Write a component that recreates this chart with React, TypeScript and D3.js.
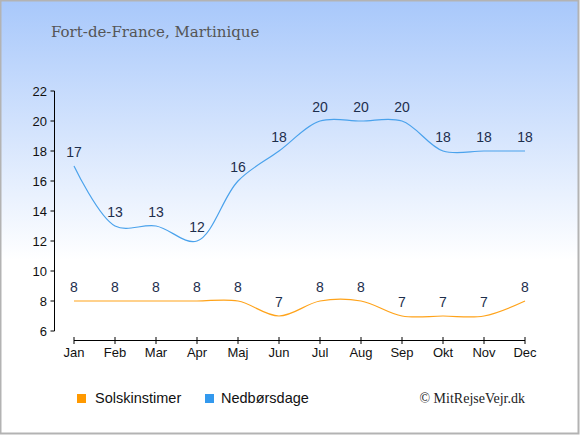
import React from 'react';
import * as d3 from 'd3';

const months = ['Jan', 'Feb', 'Mar', 'Apr', 'Maj', 'Jun', 'Jul', 'Aug', 'Sep', 'Okt', 'Nov', 'Dec'];
const sunHours = [8, 8, 8, 8, 8, 7, 8, 8, 7, 7, 7, 8];
const rainDays = [17, 13, 13, 12, 16, 18, 20, 20, 20, 18, 18, 18];
const yTicks = [6, 8, 10, 12, 14, 16, 18, 20, 22];

const W = 580;
const H = 435;

const App: React.FC = () => {
  const x = d3.scalePoint<string>().domain(months).range([74, 525]);
  const y = d3.scaleLinear().domain([6, 22]).range([331, 91]);

  const line = d3
    .line<number>()
    .x((_, i) => x(months[i])!)
    .y(d => y(d))
    .curve(d3.curveCatmullRom);

  const series = [
    { name: 'Solskinstimer', values: sunHours, color: '#ffa31a', box: '#ff9900' },
    { name: 'Nedbørsdage', values: rainDays, color: '#4aa2ec', box: '#3399ee' }
  ];

  return (
    <div style={{ position: 'fixed', left: 0, top: 0 }}>
      <svg width={W} height={H} style={{ display: 'block' }}>
        <defs>
          <linearGradient id="bg" x1="0" y1="0" x2="0" y2="1">
            <stop offset="0%" stopColor="#a8c8fb" />
            <stop offset="60%" stopColor="#ffffff" />
            <stop offset="100%" stopColor="#ffffff" />
          </linearGradient>
        </defs>
        <rect x={0.5} y={0.5} width={W - 2} height={H - 2} fill="url(#bg)" stroke="#b3b3b3" strokeWidth={2} />

        <text x={51} y={37} fontFamily="DejaVu Serif" fontSize={15} fill="#555555">
          Fort-de-France, Martinique
        </text>

        {/* y axis */}
        <g fontFamily="Liberation Sans, Arial" fontSize={13} fill="#111">
          <line x1={54.5} x2={54.5} y1={y(22)} y2={y(6)} stroke="#000" />
          {yTicks.map(t => (
            <g key={t}>
              <line x1={50.5} x2={54.5} y1={y(t)} y2={y(t)} stroke="#000" />
              <text x={47} y={y(t) + 4.5} textAnchor="end">{t}</text>
            </g>
          ))}
        </g>

        {/* x axis */}
        <g fontFamily="Liberation Sans, Arial" fontSize={13} fill="#111">
          <line x1={x('Jan')!} x2={x('Dec')!} y1={340.5} y2={340.5} stroke="#000" />
          {months.map(m => (
            <g key={m}>
              <line x1={x(m)!} x2={x(m)!} y1={337} y2={344} stroke="#000" />
              <text x={x(m)!} y={357} textAnchor="middle">{m}</text>
            </g>
          ))}
        </g>

        {series.map(s => (
          <g key={s.name}>
            <path d={line(s.values) ?? ''} fill="none" stroke={s.color} strokeWidth={1.2} />
            {s.values.map((v, i) => (
              <text
                key={i}
                x={x(months[i])!}
                y={y(v) - 9}
                textAnchor="middle"
                fontFamily="Liberation Sans, Arial"
                fontSize={14}
                fill="#1d2e4c"
              >
                {v}
              </text>
            ))}
          </g>
        ))}

        {/* legend */}
        <g fontFamily="Liberation Sans, Arial" fontSize={14.5} fill="#111">
          <rect x={77} y={394} width={9} height={9} fill={series[0].box} />
          <text x={95} y={403}>{series[0].name}</text>
          <rect x={205} y={394} width={9} height={9} fill={series[1].box} />
          <text x={221} y={403}>{series[1].name}</text>
        </g>
        <text x={525} y={403} textAnchor="end" fontFamily="Liberation Serif" fontSize={14} fill="#222">
          © MitRejseVejr.dk
        </text>
      </svg>
    </div>
  );
};

export default App;
